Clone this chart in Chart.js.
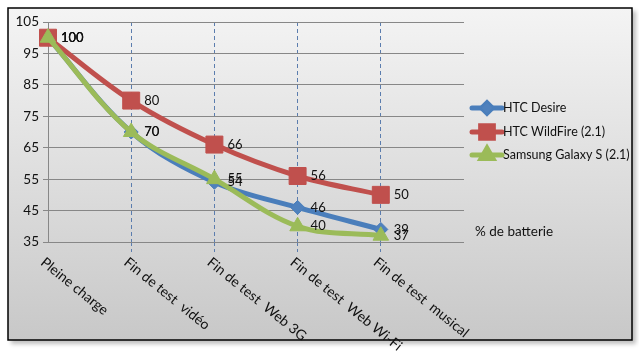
<!DOCTYPE html>
<html>
<head>
<meta charset="utf-8">
<script src="https://cdn.jsdelivr.net/npm/chart.js@4"></script>
<style>
  html, body { margin: 0; padding: 0; background: #fff; }
  #wrap { width: 639px; height: 351px; position: relative; }
</style>
</head>
<body>
<div id="wrap"><canvas id="chart" width="639" height="351"></canvas></div>
<script>
// --- Data ---
const categories = ['Pleine charge', 'Fin de test  vidéo', 'Fin de test  Web 3G', 'Fin de test  Web Wi-Fi', 'Fin de test  musical', ''];
const seriesNames = ['HTC Desire', 'HTC WildFire (2.1)', 'Samsung Galaxy S (2.1)'];
const desire = [100, 70, 54, 46, 39];
const wildfire = [100, 80, 66, 56, 50];
const galaxy = [100, 70, 55, 40, 37];
const yTicks = [35, 45, 55, 65, 75, 85, 95, 105];
const sideNote = '% de batterie';

const FONT = 'Lato, "Open Sans", sans-serif';
const colors = ['#4A7EBB', '#C0504D', '#9BBB59'];
const markerFill = ['#4F81BD', '#C0504D', '#9BBB59'];
const markerStyles = ['rectRot', 'rect', 'triangle'];
const markerSizes = [7, 12, 9];

// frame + gradient background
const framePlugin = {
    id: 'frame',
    beforeDraw(chart) {
        const c = chart.ctx;
        c.save();
        c.fillStyle = 'rgba(0,0,0,0.25)';
        c.filter = 'blur(2px)';
        c.fillRect(11, 11, 625, 333);
        c.filter = 'none';
        const g = c.createLinearGradient(0, 8, 0, 340);
        g.addColorStop(0, '#f4f4f4');
        g.addColorStop(1, '#c8c8c8');
        c.fillStyle = g;
        c.fillRect(8, 8, 624, 332);
        c.strokeStyle = '#000';
        c.lineWidth = 1.5;
        c.strokeRect(8, 8, 624, 332);
        c.restore();
    }
};

// rotated x labels, data labels, legend, side note
const textPlugin = {
    id: 'texts',
    afterDraw(chart) {
        const c = chart.ctx;
        const xs = chart.scales.x;
        const area = chart.chartArea;
        c.save();
        c.fillStyle = '#111';

        // x labels, going down to the right
        c.font = '14px ' + FONT;
        c.textAlign = 'left';
        c.textBaseline = 'top';
        categories.forEach((lab, i) => {
            if (!lab) return;
            const x = xs.getPixelForTick(i);
            c.save();
            c.translate(x - 1, area.bottom + 13);
            c.rotate(39 * Math.PI / 180);
            c.fillText(lab, 0, 0);
            c.restore();
        });

        // data labels to the right of each point
        c.font = '13px ' + FONT;
        c.textBaseline = 'middle';
        chart.data.datasets.forEach((ds, di) => {
            const meta = chart.getDatasetMeta(di);
            meta.data.forEach((pt, i) => {
                c.fillText(String(ds.data[i]), pt.x + 13, pt.y);
            });
        });

        // legend
        const lx = area.right + 8;
        const ly = [108, 132, 155];
        c.font = '12.5px ' + FONT;
        chart.data.datasets.forEach((ds, di) => {
            const y = ly[di];
            c.strokeStyle = colors[di];
            c.lineWidth = 5;
            c.lineCap = 'round';
            c.beginPath();
            c.moveTo(lx, y);
            c.lineTo(lx + 30, y);
            c.stroke();
            Chart.helpers.drawPoint(c, {
                pointStyle: markerStyles[di],
                radius: markerSizes[di] * 0.75,
                borderWidth: 1,
                rotation: 0
            }, lx + 15, y);
            c.fillStyle = markerFill[di];
            c.strokeStyle = colors[di];
            c.fill();
            c.fillStyle = '#111';
            c.fillText(ds.label, lx + 31, y);
        });

        // side note
        c.font = '13.5px ' + FONT;
        c.fillText(sideNote, area.right + 11, 232);
        c.restore();
    }
};

const makeSet = (label, data, i, order) => ({
    label: label,
    data: data,
    borderColor: colors[i],
    backgroundColor: markerFill[i],
    pointBackgroundColor: markerFill[i],
    pointBorderColor: colors[i],
    pointBorderWidth: 1,
    pointStyle: markerStyles[i],
    pointRadius: markerSizes[i],
    borderWidth: 5,
    tension: 0.35,
    fill: false,
    order: order
});

new Chart(document.getElementById('chart'), {
    type: 'line',
    data: {
        labels: categories,
        datasets: [
            makeSet(seriesNames[0], desire, 0, 2),
            makeSet(seriesNames[1], wildfire, 1, 1),
            makeSet(seriesNames[2], galaxy, 2, 0)
        ]
    },
    options: {
        responsive: false,
        animation: false,
        layout: { padding: { top: 22, right: 175, left: 0, bottom: 0 } },
        plugins: {
            legend: { display: false },
            tooltip: { enabled: false }
        },
        scales: {
            x: {
                offset: false,
                ticks: { display: false },
                grid: {
                    color: (ctx) => (ctx.index === 0 || ctx.index === categories.length - 1) ? 'rgba(0,0,0,0)' : '#5B7DAE',
                    tickColor: (ctx) => (ctx.index === 0 || ctx.index === categories.length - 1) ? 'rgba(0,0,0,0)' : '#5B7DAE',
                    lineWidth: 1,
                    tickLength: 10,
                    tickBorderDash: [4, 3]
                },
                border: { display: false, dash: [4, 3] },
                afterFit: (s) => { s.height = 109; }
            },
            y: {
                min: 35,
                max: 105,
                afterBuildTicks: (s) => { s.ticks = yTicks.map(v => ({ value: v })); },
                ticks: {
                    color: '#111',
                    font: { family: FONT, size: 13.5 },
                    padding: 4
                },
                grid: { color: '#878787', lineWidth: 1, tickLength: 5 },
                border: { display: true, color: '#878787', width: 1 },
                afterFit: (s) => { s.width = 48; }
            }
        }
    },
    plugins: [framePlugin, textPlugin]
});
</script>
</body>
</html>
